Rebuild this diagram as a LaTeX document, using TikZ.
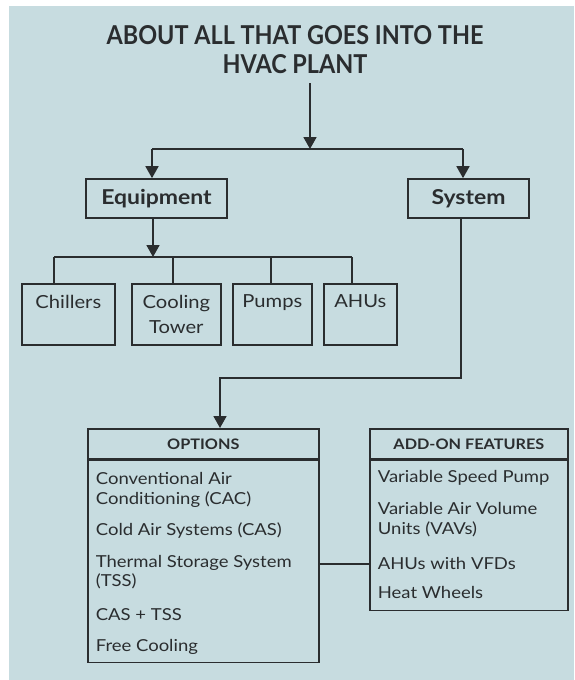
\documentclass[tikz,border=0pt]{standalone}
\usepackage{fontspec}
\setmainfont{Lato}[FakeStretch=1.12]
\newfontfamily\titlefont{Lato}[FakeStretch=0.9]
\usetikzlibrary{arrows.meta,calc}
\definecolor{bg}{HTML}{C7DCE0}
\definecolor{ink}{HTML}{2A2D2F}
\tikzset{
  box/.style={draw=ink, line width=1.7pt, inner sep=0pt, text=ink},
  conn/.style={draw=ink, line width=1.8pt},
  arr/.style={conn, -{Triangle[length=12pt,width=13pt]}},
  leaf/.style={box, anchor=north west, minimum height=61pt, font=\fontsize{18}{25}\selectfont},
  head/.style={box, anchor=north west, minimum height=30pt, font=\bfseries\fontsize{14.5}{16}\selectfont},
  mid/.style={box, minimum height=39pt, font=\bfseries\fontsize{20.5}{24}\selectfont}
}
\newcommand{\leaftext}[2]{\parbox[c][61pt][t]{#1}{\centering\vspace*{11pt}#2}}
\begin{document}
\begin{tikzpicture}[x=1pt,y=-1pt]
\useasboundingbox (0,0) rectangle (574,680);
\fill[white] (0,0) rectangle (574,680);
\fill[bg] (9,6) rectangle (574,680);

\node[font=\titlefont\bfseries\fontsize{26}{29}\selectfont, align=center, text=ink] (title) at (295,50) {ABOUT ALL THAT GOES INTO THE\\HVAC PLANT};

\node[mid, minimum width=141pt] (equip) at (156.5,198.5) {Equipment};
\node[mid, minimum width=121pt] (sys) at (468.5,198.5) {System};

\node[leaf, minimum width=93pt] (chil) at (21,283) {\leaftext{90pt}{Chillers}};
\node[leaf, minimum width=89pt] (cool) at (131,283) {\leaftext{86pt}{Cooling\\Tower}};
\node[leaf, minimum width=79pt] (pump) at (232,283) {\leaftext{76pt}{Pumps}};
\node[leaf, minimum width=73pt] (ahu) at (323,283) {\leaftext{70pt}{AHUs}};

\node[head, minimum width=231pt] (opth) at (87,428) {OPTIONS};
\node[box, anchor=north, minimum width=231pt, minimum height=202pt] (optb) at (opth.south) {\parbox[c][202pt][t]{215pt}{\fontsize{16.5}{19.5}\selectfont\raggedright\vspace*{12pt}%
Conventional Air\\Conditioning (CAC)\par\vspace{12pt}
Cold Air Systems (CAS)\par\vspace{12pt}
Thermal Storage System\\(TSS)\par\vspace{14pt}
CAS + TSS\par\vspace{12pt}
Free Cooling}};

\node[head, minimum width=198pt] (addh) at (369,428) {ADD-ON FEATURES};
\node[box, anchor=north, minimum width=198pt, minimum height=150pt] (addb) at (addh.south) {\parbox[c][150pt][t]{182pt}{\fontsize{16.5}{20}\selectfont\raggedright\vspace*{10pt}%
Variable Speed Pump\par\vspace{12pt}
Variable Air Volume\\Units (VAVs)\par\vspace{15pt}
AHUs with VFDs\par\vspace{9pt}
Heat Wheels}};

% connectors
\coordinate (t0) at (310,83);
\coordinate (t1) at (310,149);
\coordinate (bl) at (152,149);
\coordinate (br) at (463,149);
\draw[arr] (t0) -- (t1);
\draw[conn] (bl) -- (br);
\draw[arr] (bl) -- (bl |- equip.north);
\draw[arr] (br) -- (br |- sys.north);

\coordinate (eb) at (153,257);
\coordinate (e1) at (54,257);
\coordinate (e2) at (173,257);
\coordinate (e3) at (271,257);
\coordinate (e4) at (352,257);
\draw[arr] (equip.south -| eb) -- (eb);
\draw[conn] (e1) -- (e4);
\draw[conn] (e1) -- (e1 |- chil.north);
\draw[conn] (e2) -- (e2 |- cool.north);
\draw[conn] (e3) -- (e3 |- pump.north);
\draw[conn] (e4) -- (e4 |- ahu.north);

\coordinate (sd) at (461,378);
\coordinate (sl) at (220,378);
\draw[arr] (sys.south -| sd) -- (sd) -- (sl) -- (sl |- opth.north);

\coordinate (lk) at (0,564);
\draw[conn] (optb.east |- lk) -- (addb.west |- lk);
\end{tikzpicture}
\end{document}
